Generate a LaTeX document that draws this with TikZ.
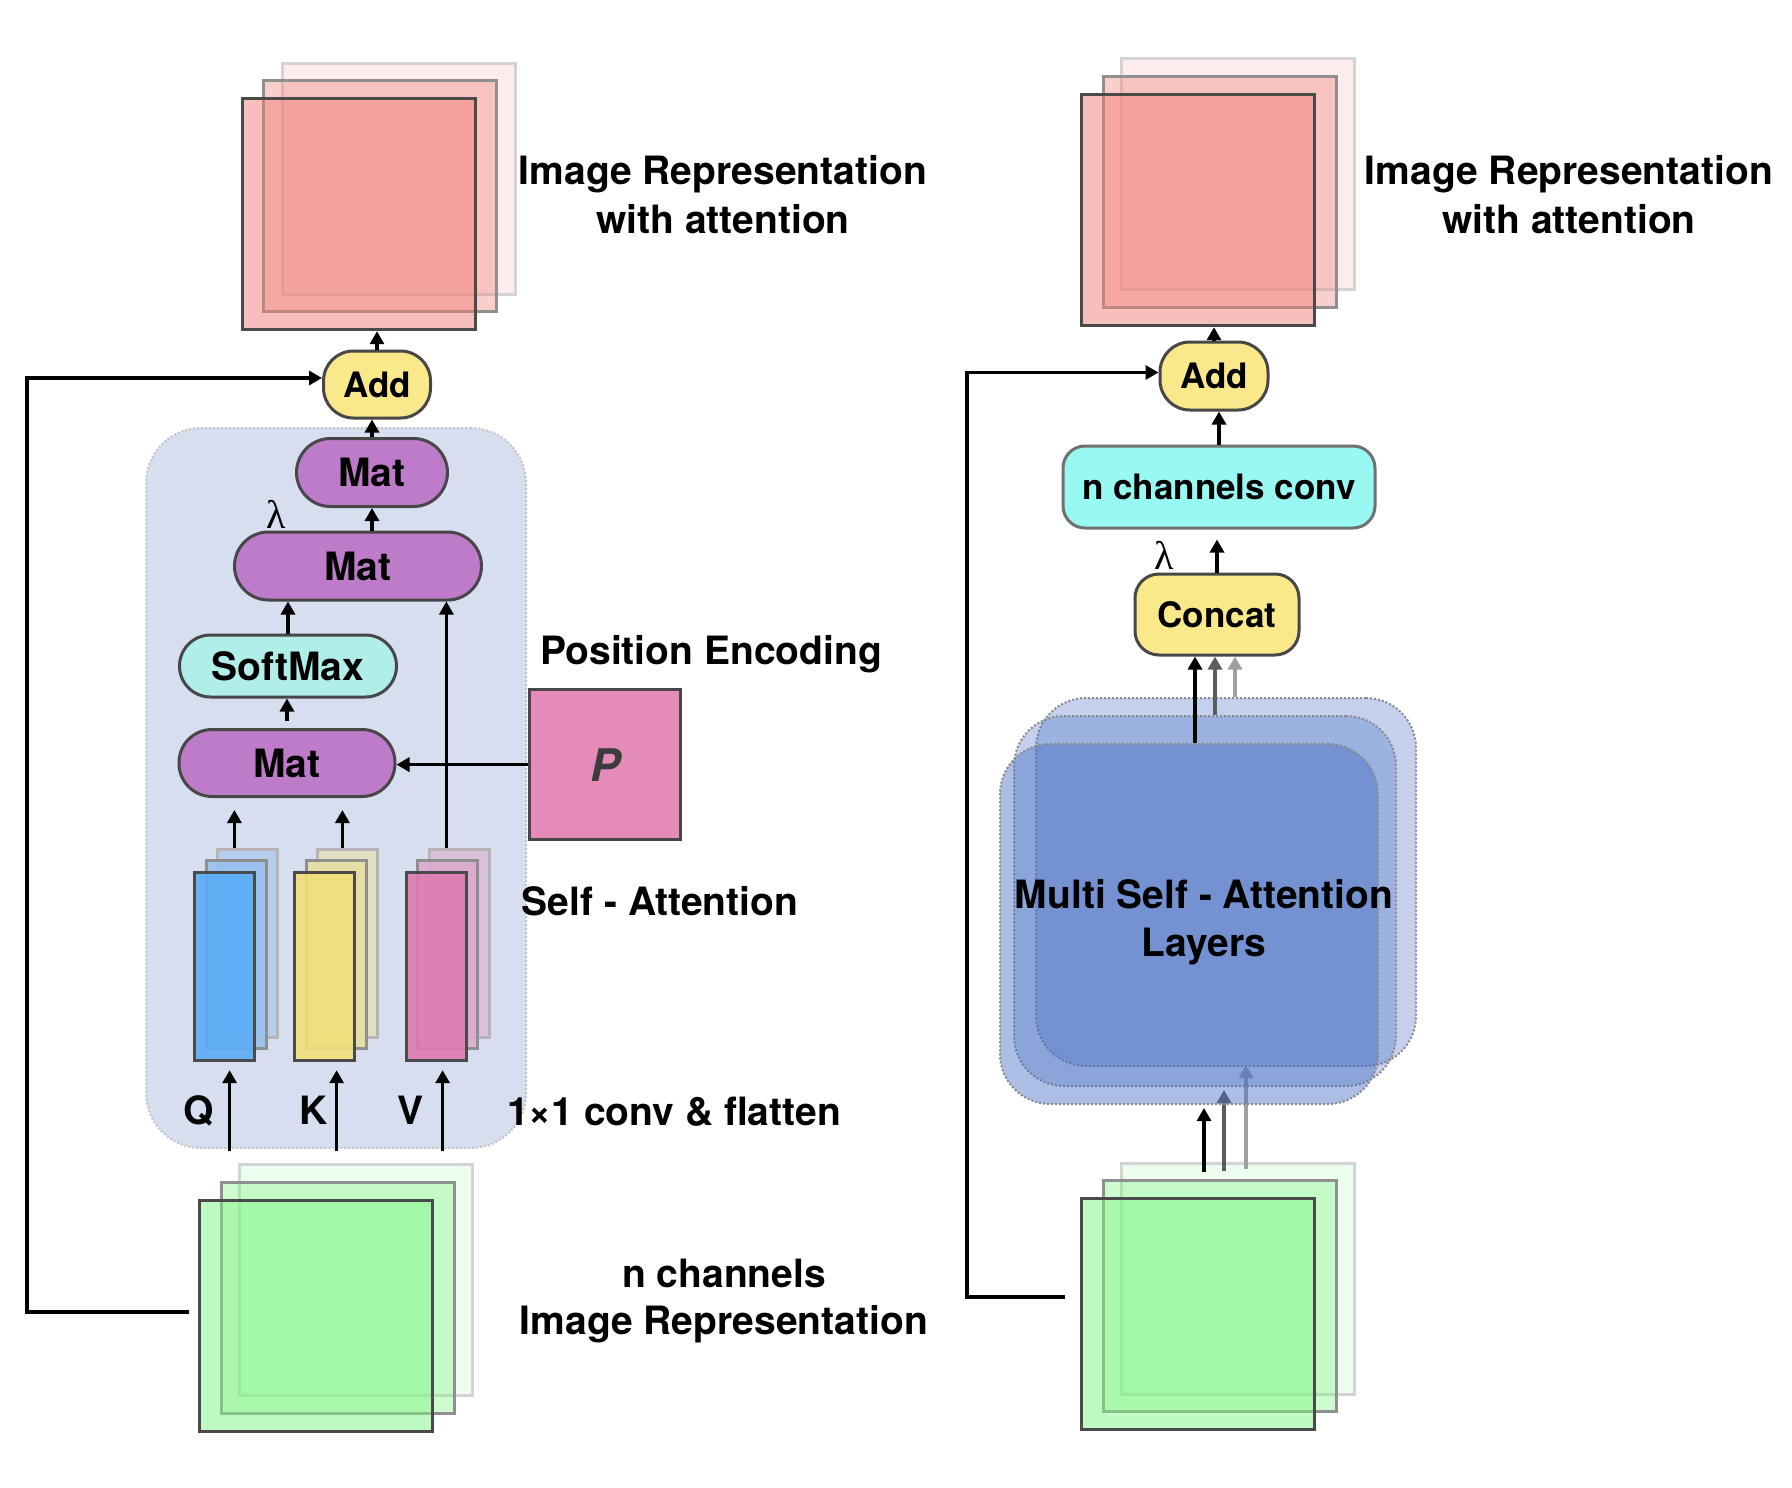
\documentclass[tikz,border=0pt]{standalone}
\usepackage{fontspec}
\setmainfont{TeX Gyre Heros}
\newfontfamily\lamfont{Liberation Serif}
\usetikzlibrary{arrows.meta}
\definecolor{redc}{HTML}{F08078}
\definecolor{greenc}{HTML}{82F587}
\definecolor{qf}{HTML}{5AACF6}
\definecolor{qm}{HTML}{97C1F1}
\definecolor{qb}{HTML}{B3CDEE}
\definecolor{kf}{HTML}{F1E07A}
\definecolor{km}{HTML}{E6DFA0}
\definecolor{kb}{HTML}{E3E0BE}
\definecolor{vf}{HTML}{DE7BB0}
\definecolor{vm}{HTML}{DCAACD}
\definecolor{vb}{HTML}{DABEDA}
\definecolor{mc}{HTML}{466EC3}
\definecolor{bgc}{HTML}{D6DEF0}
\definecolor{bgb}{HTML}{C4C4C4}
\definecolor{matc}{HTML}{BD7BC9}
\definecolor{softc}{HTML}{AFEEE9}
\definecolor{yelc}{HTML}{F9E98A}
\definecolor{convc}{HTML}{97F9F1}
\definecolor{pc}{HTML}{E58BBA}
\definecolor{bordc}{HTML}{474747}
\definecolor{convb}{HTML}{707070}
\definecolor{frb}{HTML}{4A4A4A}
\definecolor{mdb}{HTML}{8F8F8F}
\definecolor{bkb}{HTML}{D3D3D3}
\definecolor{bkb2}{HTML}{B5B5B5}
\definecolor{pgray}{HTML}{3C3C3C}
\definecolor{layb}{HTML}{8A8A8A}
\definecolor{dgr}{HTML}{5C5C5C}
\definecolor{lgr}{HTML}{A0A0A0}
\begin{document}
\begin{tikzpicture}[x=1pt,y=-1pt,
 lbl/.style={font=\bfseries\fontsize{39}{47}\selectfont, anchor=base, inner sep=0pt},
 stk/.style={anchor=north west, minimum width=233pt, minimum height=231pt, inner sep=0pt},
 sback/.style={stk, fill opacity=0.15, draw=bkb, line width=3pt},
 smid/.style={stk, fill opacity=0.38, draw=mdb, line width=3.2pt},
 sfront/.style={stk, fill opacity=0.5, draw=frb, line width=3.2pt},
 colbox/.style={anchor=north west, minimum width=60pt, minimum height=188pt, inner sep=0pt, fill opacity=0.9},
 cback/.style={colbox, draw=bkb2, line width=2.8pt},
 cmid/.style={colbox, draw=mdb, line width=3pt},
 cfront/.style={colbox, draw=frb, line width=3.2pt},
 pill/.style={draw=bordc, line width=3pt, inner sep=0pt, text depth=0pt},
 bigt/.style={font=\bfseries\fontsize{39}{39}\selectfont, text height=28pt},
 smallt/.style={font=\bfseries\fontsize{35}{35}\selectfont, text height=25pt},
 arr/.style={line width=3.2pt, -{Triangle[length=13pt,width=14pt]}},
 lay/.style={anchor=north west, rounded corners=50pt, fill=mc, fill opacity=0.32, draw=layb, dash pattern=on 2pt off 2pt, line width=2pt, inner sep=0pt},
 lam/.style={font=\lamfont\fontsize{40}{40}\selectfont, anchor=base, inner sep=0pt}
]
\useasboundingbox (0,0) rectangle (1792,1488);

% ---------------- left panel ----------------
% output stack
\node[sback, fill=redc] (RbL) at (281,62) {};
\node[smid, fill=redc] (RmL) at (262,79) {};
\node[sfront, fill=redc] (RfL) at (241,97) {};
% input stack
\node[sback, fill=greenc] (GbL) at (238,1163) {};
\node[smid, fill=greenc] (GmL) at (220,1181) {};
\node[sfront, fill=greenc] (GfL) at (198,1199) {};

% self-attention background
\node[anchor=north west, minimum width=380pt, minimum height=720pt, rounded corners=55pt,
  fill=bgc, draw=bgb, dash pattern=on 2pt off 2pt, line width=2pt, inner sep=0pt] (bg) at (145,427) {};

% Q K V columns
\node[cback, fill=qb] (Qb) at (216,848) {};
\node[cmid, fill=qm] (Qm) at (205,859) {};
\node[cfront, fill=qf] (Qf) at (193,871) {};
\node[cback, fill=kb] (Kb) at (316,848) {};
\node[cmid, fill=km] (Km) at (305,859) {};
\node[cfront, fill=kf] (Kf) at (293,871) {};
\node[cback, fill=vb] (Vb) at (428,848) {};
\node[cmid, fill=vm] (Vm) at (416,859) {};
\node[cfront, fill=vf] (Vf) at (405,871) {};

% operation nodes
\node[pill, smallt, fill=yelc, rounded corners=30pt, minimum width=107pt, minimum height=67pt] (AddL) at (377,384.5) {Add};
\node[pill, bigt, fill=matc, rounded corners=34pt, minimum width=151pt, minimum height=68pt] (Mat3) at (372,472.5) {Mat};
\node[pill, bigt, fill=matc, rounded corners=34pt, minimum width=247pt, minimum height=68pt] (Mat2) at (358,566) {Mat};
\node[pill, bigt, fill=softc, rounded corners=31pt, minimum width=217pt, minimum height=62pt] (Soft) at (288,666) {SoftMax};
\node[pill, bigt, fill=matc, rounded corners=33pt, minimum width=216pt, minimum height=67pt] (Mat1) at (287,763) {Mat};
\node[anchor=north west, minimum width=151pt, minimum height=150pt, fill=pc, draw=bordc, line width=3.2pt,
  inner sep=0pt, font=\bfseries\itshape\fontsize{45}{45}\selectfont, text=pgray] (P) at (528,688) {P};
\node[lam] (lamL) at (276,528) {λ};

% connectors
\draw[arr] (AddL.north) -- (AddL.north |- RfL.south);
\draw[arr] (Mat3.north) -- (Mat3.north |- AddL.south);
\draw[arr] (Mat3.south |- Mat2.north) -- (Mat3.south);
\draw[arr] (Soft.north) -- (Soft.north |- Mat2.south);
\draw[arr, shorten <=7pt] (Mat1.north) -- (Mat1.north |- Soft.south);
\coordinate (qt) at ([xshift=-13pt]Qb.north);
\coordinate (kt) at ([xshift=-5pt]Kb.north);
\coordinate (vt) at ([xshift=-13pt]Vb.north);
\draw[arr, shorten >=12pt] (qt) -- (qt |- Mat1.south);
\draw[arr, shorten >=12pt] (kt) -- (kt |- Mat1.south);
\draw[arr] (vt) -- (vt |- Mat2.south);
\draw[arr] (P.west) -- (P.west -| Mat1.east);
\coordinate (qa) at ([xshift=5pt]Qf.south);
\coordinate (ka) at ([xshift=12pt]Kf.south);
\coordinate (va) at ([xshift=6pt]Vf.south);
\draw[arr, shorten <=12pt, shorten >=8pt] (qa |- GbL.north) -- (qa);
\draw[arr, shorten <=12pt, shorten >=8pt] (ka |- GbL.north) -- (ka);
\draw[arr, shorten <=12pt, shorten >=8pt] (va |- GbL.north) -- (va);
\coordinate (lp1) at (189,1312);
\coordinate (lp2) at (27,1312);
\draw[arr] (lp1) -- (lp2) |- ([yshift=6.5pt]AddL.west);

% labels
\node[lbl] (tL1) at (723,184) {Image Representation};
\node[lbl] (tL2) at (723,233) {with attention};
\node[lbl] (tPE) at (711,664) {Position Encoding};
\node[lbl] (tSA) at (660,915) {Self - Attention};
\node[lbl] (tCF) at (674,1125) {1×1 conv \& flatten};
\node[lbl] (tQ) at (199,1124) {Q};
\node[lbl] (tK) at (314,1124) {K};
\node[lbl] (tV) at (411,1124) {V};
\node[lbl] (tN1) at (724,1287) {n channels};
\node[lbl] (tN2) at (724,1334) {Image Representation};

% ---------------- right panel ----------------
\node[sback, fill=redc] (RbR) at (1120,57) {};
\node[smid, fill=redc] (RmR) at (1102,75) {};
\node[sfront, fill=redc] (RfR) at (1080,93) {};
\node[sback, fill=greenc] (GbR) at (1120,1162) {};
\node[smid, fill=greenc] (GmR) at (1102,1179) {};
\node[sfront, fill=greenc] (GfR) at (1080,1197) {};

% arrows into the layers (drawn beneath them)
\coordinate (ba) at (1204,1172);
\coordinate (bb) at (1224,1171);
\coordinate (bc) at (1246,1169);
\draw[arr] (ba) -- (1204,1108);
\draw[arr, draw=dgr, fill=dgr] (bb) -- (1224,1090);
\draw[arr, draw=lgr, fill=lgr] (bc) -- (1246,1065);

\node[lay, minimum width=380pt, minimum height=368pt] (M1) at (1035,697) {};
\node[lay, minimum width=382pt, minimum height=370pt] (M2) at (1013,715) {};
\node[lay, minimum width=378pt, minimum height=360pt, fill opacity=0.45] (M3) at (999,743) {};
\node[lbl] (tM1) at (1204,908) {Multi Self - Attention};
\node[lbl] (tM2) at (1204,956) {Layers};

\node[pill, smallt, fill=yelc, rounded corners=30pt, minimum width=108pt, minimum height=68pt] (AddR) at (1214,376) {Add};
\node[pill, smallt, fill=convc, draw=convb, rounded corners=22pt, minimum width=312pt, minimum height=82pt] (Conv) at (1219,487) {n channels conv};
\node[pill, smallt, fill=yelc, rounded corners=24pt, minimum width=164pt, minimum height=81pt] (Concat) at (1217,614.5) {Concat};
\node[lam] (lamR) at (1164,569) {λ};

\draw[arr] (AddR.north) -- (AddR.north |- RfR.south);
\draw[arr] (Conv.north) -- (Conv.north |- AddR.south);
\draw[arr, shorten >=10pt] (Concat.north) -- (Concat.north |- Conv.south);
\coordinate (ca) at ([xshift=6pt]M3.north);
\coordinate (cb) at ([xshift=10pt]M2.north);
\coordinate (cc) at ([xshift=9pt]M1.north);
\draw[arr] (ca) -- (ca |- Concat.south);
\draw[arr, draw=dgr, fill=dgr] (cb) -- (cb |- Concat.south);
\draw[arr, draw=lgr, fill=lgr] (cc) -- (cc |- Concat.south);
\coordinate (rp1) at (1065,1297);
\coordinate (rp2) at (967,1297);
\draw[arr] (rp1) -- (rp2) |- ([yshift=3.5pt]AddR.west);

\node[lbl] (tR1) at (1569,184) {Image Representation};
\node[lbl] (tR2) at (1569,233) {with attention};
\end{tikzpicture}
\end{document}
